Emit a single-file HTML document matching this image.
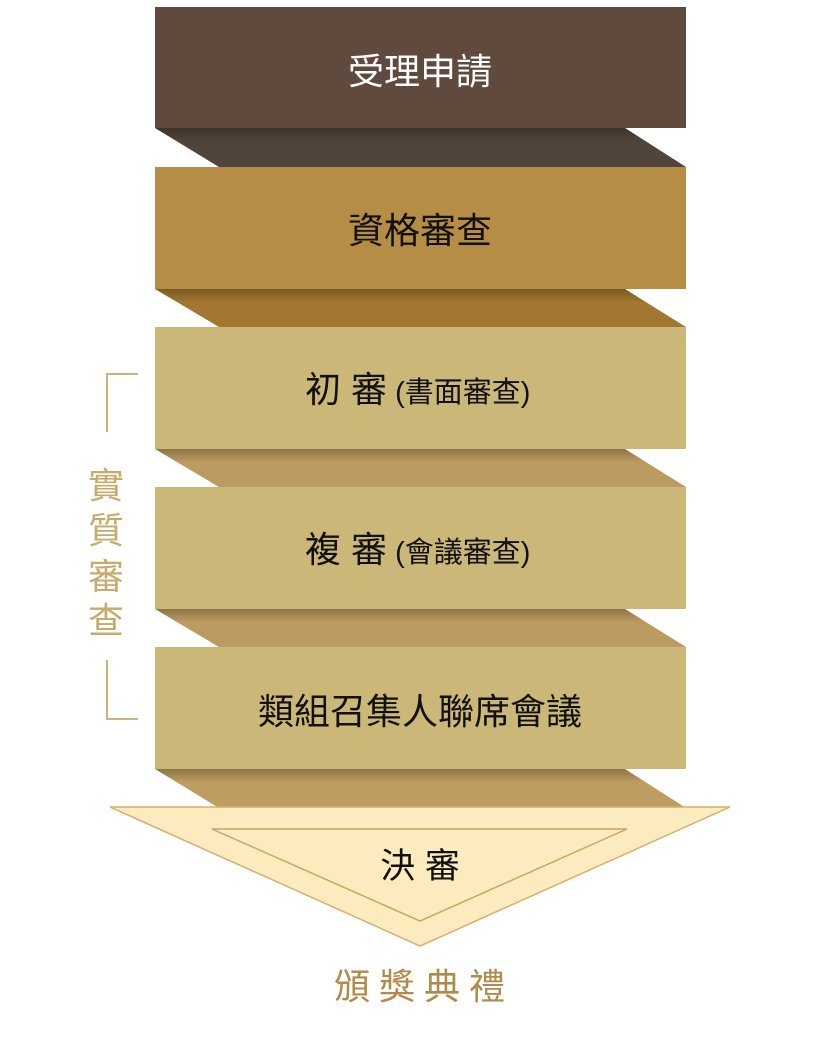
<!DOCTYPE html>
<html><head><meta charset="utf-8"><style>
html,body{margin:0;padding:0;background:#fff;}
svg{display:block}
text{font-family:"Liberation Sans","Noto Sans CJK TC",sans-serif;}
</style></head><body>
<svg width="840" height="1041" viewBox="0 0 840 1041" xmlns="http://www.w3.org/2000/svg">
<defs>
<linearGradient id="sh" x1="0" y1="0" x2="0" y2="1">
<stop offset="0" stop-color="#000" stop-opacity="0.25"/>
<stop offset="0.35" stop-color="#000" stop-opacity="0"/>
</linearGradient>
</defs>
<polygon points="155,128 625,128 686,167 219,167" fill="#51443a"/>
<polygon points="155,128 625,128 686,167 219,167" fill="url(#sh)"/>
<polygon points="155,289 625,289 686,327 219,327" fill="#a2772f"/>
<polygon points="155,289 625,289 686,327 219,327" fill="url(#sh)"/>
<polygon points="155,449 625,449 686,487 219,487" fill="#bb9b60"/>
<polygon points="155,449 625,449 686,487 219,487" fill="url(#sh)"/>
<polygon points="155,609 625,609 686,647 219,647" fill="#bb9b60"/>
<polygon points="155,609 625,609 686,647 219,647" fill="url(#sh)"/>
<polygon points="155,769 625,769 686,808 219,808" fill="#bd9d60"/>
<polygon points="155,769 625,769 686,808 219,808" fill="url(#sh)"/>
<rect x="155" y="7" width="531" height="121" fill="#604a3e"/>
<rect x="155" y="167" width="531" height="122" fill="#b58d45"/>
<rect x="155" y="327" width="531" height="122" fill="#cbb778"/>
<rect x="155" y="487" width="531" height="122" fill="#cbb778"/>
<rect x="155" y="647" width="531" height="122" fill="#cbb778"/>
<polygon points="110,807 730,807 420,946" fill="#fdebc0" stroke="#d4b06a" stroke-width="1.5"/>
<polygon points="212,829 627,829 420,921" fill="#fdebc0" stroke="#c9a560" stroke-width="1.5"/>
<text x="420" y="84" font-size="36" fill="#fff" text-anchor="middle">受理申請</text>
<text x="420" y="243" font-size="36" fill="#111" text-anchor="middle">資格審查</text>
<text x="305" y="402" font-size="36" fill="#111">初 審<tspan font-size="29"> (書面審查)</tspan></text>
<text x="305" y="562" font-size="36" fill="#111">複 審<tspan font-size="29"> (會議審查)</tspan></text>
<text x="420" y="724" font-size="36" fill="#111" text-anchor="middle">類組召集人聯席會議</text>
<text x="420" y="878" font-size="35" fill="#111" text-anchor="middle">決 審</text>
<text x="424" y="999" font-size="36" fill="#b08a4a" text-anchor="middle" letter-spacing="9">頒獎典禮</text>
<polyline points="138,374 107,374 107,432" fill="none" stroke="#cbb477" stroke-width="2"/>
<polyline points="107,660 107,719 138,719" fill="none" stroke="#cbb477" stroke-width="2"/>
<g font-size="36" fill="#c7ab6a" text-anchor="middle">
<text x="106" y="498">實</text>
<text x="106" y="543">質</text>
<text x="106" y="589">審</text>
<text x="106" y="633">查</text>
</g>
</svg>
</body></html>
